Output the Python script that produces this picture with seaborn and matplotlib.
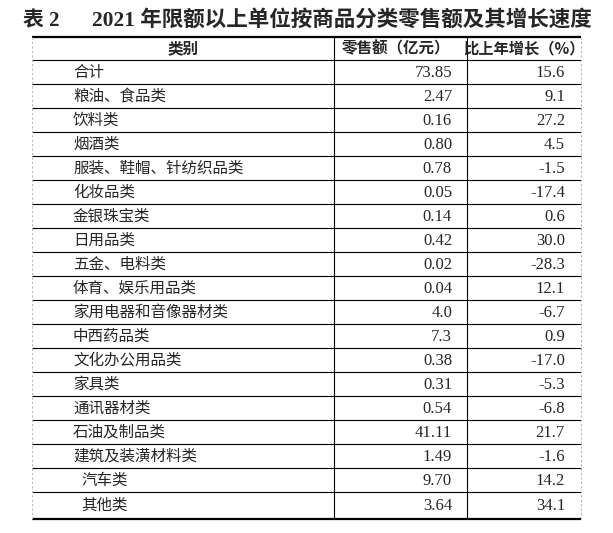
import matplotlib
matplotlib.use("Agg")
import matplotlib.pyplot as plt
import seaborn as sns

# table data
categories = ["合计", "粮油、食品类", "饮料类", "烟酒类", "服装、鞋帽、针纺织品类",
              "化妆品类", "金银珠宝类", "日用品类", "五金、电料类", "体育、娱乐用品类",
              "家用电器和音像器材类", "中西药品类", "文化办公用品类", "家具类",
              "通讯器材类", "石油及制品类", "建筑及装潢材料类", "汽车类", "其他类"]
sales = ["73.85", "2.47", "0.16", "0.80", "0.78", "0.05", "0.14", "0.42", "0.02",
         "0.04", "4.0", "7.3", "0.38", "0.31", "0.54", "41.11", "1.49", "9.70", "3.64"]
growth = ["15.6", "9.1", "27.2", "4.5", "-1.5", "-17.4", "0.6", "30.0", "-28.3",
          "12.1", "-6.7", "0.9", "-17.0", "-5.3", "-6.8", "21.7", "-1.6", "14.2", "34.1"]
headers = ["类别", "零售额（亿元）", "比上年增长（%）"]
title_no = "表 2"
title = "2021 年限额以上单位按商品分类零售额及其增长速度"

sns.set_theme(style="white")
plt.rcParams["font.family"] = ["Noto Sans CJK SC", "DejaVu Sans"]

fig = plt.figure(figsize=(6.13, 5.33), dpi=100)
ax = fig.add_axes([0, 0, 1, 1])
ax.set_xlim(0, 613)
ax.set_ylim(533, 0)
ax.axis("off")

left, right = 32, 581
col1, col2 = 334, 467
top, head_bottom, bottom = 37, 60, 519
row_h = 24

# row edges
edges = [head_bottom + row_h * k for k in range(len(categories))] + [bottom]

ax.hlines(top, left, right, color="black", lw=1.6)
ax.hlines(edges[:-1], left, right, color="black", lw=0.8)
ax.hlines(bottom, left, right, color="black", lw=1.6)
ax.vlines([col1, col2], top, bottom, color="black", lw=0.8)
ax.vlines([left, right], top, bottom, color="#bbbbbb", lw=0.8, linestyles=(0, (2, 2)))

serif = ["Liberation Serif", "Noto Sans CJK SC"]

ax.text(23, 21, title_no, family=serif, fontsize=15, fontweight="bold",
        ha="left", va="center")
ax.text(92, 21, title, family=serif, fontsize=15.5, fontweight="bold",
        ha="left", va="center")

hy = (top + head_bottom) / 2
ax.text((left + col1) / 2, hy, headers[0], fontsize=11.2, fontweight="bold", ha="center", va="center")
ax.text((col1 + col2) / 2 - 4, hy, headers[1], fontsize=11.2, fontweight="bold", ha="center", va="center")
ax.text((col2 + right) / 2, hy, headers[2], fontsize=11, fontweight="bold", ha="center", va="center")

for i, (cat, s, g) in enumerate(zip(categories, sales, growth)):
    y = (edges[i] + edges[i + 1]) / 2
    x0 = 81 if cat in ("汽车类", "其他类") else 73
    ax.text(x0, y, cat, fontsize=11.2, ha="left", va="center")
    ax.text(452, y + 1, s, family=serif, fontsize=12, ha="right", va="center")
    ax.text(565, y + 1, g, family=serif, fontsize=12, ha="right", va="center")

fig.savefig("out.png", dpi=100, facecolor="white")
